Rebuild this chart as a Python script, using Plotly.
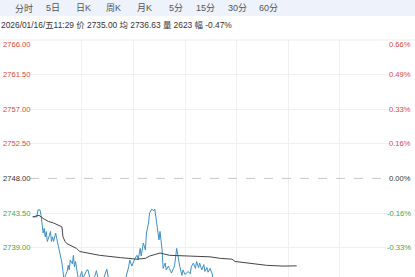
import plotly.graph_objects as go

# ---- data ----
tabs = ["分时", "5日", "日K", "周K", "月K", "5分", "15分", "30分", "60分"]
info_text = "2026/01/16/五11:29 价 2735.00 均 2736.63 量 2623 幅 -0.47%"
prev_close = 2748.00

price_minutes = [0, 4, 5, 7, 8, 9, 10, 11, 12, 13, 14, 16, 17, 18, 19, 20, 22, 23, 24, 25,
                 26, 28, 29, 30, 31, 33, 34, 35, 36, 38, 39, 40, 41, 43, 44, 47, 48, 52, 53, 55,
                 58, 61, 63, 65, 68, 71, 73, 77, 82, 86, 89, 92, 93, 95, 96, 98, 100, 101, 103, 104,
                 106, 108, 109, 111, 112, 114, 116, 117, 118, 119, 121, 122, 124, 125, 127, 128, 130, 131, 133, 135,
                 136, 138, 139, 141, 143, 144, 146, 149, 151, 152, 154, 156, 157, 159, 160, 162, 164, 165, 167, 168,
                 170, 172, 173, 180, 190, 200, 210, 220, 230, 240, 248, 253]
price_values = [2743.0, 2743.0, 2743.9, 2743.9, 2743.2, 2741.7, 2740.9, 2741.5, 2740.4, 2741.1,
                2739.8, 2740.6, 2741.1, 2739.8, 2740.4, 2739.8, 2740.9, 2740.2, 2739.6, 2738.9,
                2738.3, 2737.0, 2735.9, 2734.8, 2735.3, 2735.9, 2736.7, 2736.1, 2737.4, 2736.9,
                2738.0, 2736.5, 2737.2, 2735.4, 2734.7, 2735.9, 2735.0, 2736.1, 2736.1, 2734.9,
                2734.6, 2736.0, 2734.8, 2734.5, 2735.0, 2736.2, 2734.8, 2734.4, 2734.7, 2734.5,
                2735.0, 2736.5, 2737.4, 2736.6, 2737.0, 2737.6, 2738.0, 2737.4, 2738.9, 2737.9,
                2739.6, 2738.7, 2740.9, 2742.2, 2743.5, 2744.0, 2743.8, 2744.0, 2743.0, 2741.7,
                2740.0, 2741.1, 2738.7, 2736.3, 2737.0, 2736.1, 2736.6, 2736.3, 2735.7, 2736.3,
                2736.7, 2738.9, 2737.9, 2736.5, 2735.4, 2736.1, 2735.5, 2735.9, 2735.6, 2736.5,
                2737.0, 2736.3, 2737.2, 2736.4, 2737.0, 2736.1, 2736.8, 2735.9, 2736.4, 2735.8,
                2736.3, 2735.6, 2734.8, 2734.5, 2734.8, 2734.3, 2734.6, 2734.2, 2734.7, 2734.4,
                2734.9, 2735.0]

avg_minutes = [0, 6, 10, 15, 20, 25, 28, 29, 31, 33, 36, 42, 45, 52, 64, 84, 100, 108, 112, 122,
               131, 151, 170, 180, 191, 194, 208, 224, 240, 253]
avg_values = [2743.0, 2743.2, 2742.8, 2742.4, 2742.2, 2741.9, 2741.7, 2740.4, 2739.8, 2739.5,
              2739.3, 2738.9, 2738.5, 2738.3, 2738.0, 2737.7, 2737.5, 2737.6, 2737.9, 2738.3,
              2738.0, 2737.9, 2737.8, 2737.6, 2737.5, 2737.2, 2737.0, 2736.7, 2736.6, 2736.63]

left_labels = ["2766.00", "2761.50", "2757.00", "2752.50", "2748.00", "2743.50", "2739.00"]
right_labels = ["0.66%", "0.49%", "0.33%", "0.16%", "0.00%", "-0.16%", "-0.33%"]
label_levels = [2766.0, 2761.5, 2757.0, 2752.5, 2748.0, 2743.5, 2739.0]

# ---- layout geometry ----
W, H = 415, 277
ML, MR, MT, MB = 30, 24, 40, 0
PW, PH = W - ML - MR, H - MT - MB
X_RANGE = [-2.6, 343.4]
Y_RANGE = [2735.18, 2766.0]

RED = "#e0443a"
GREEN = "#36a84a"
DARK = "#333333"
FONT = "Liberation Sans, Arial, Noto Sans CJK SC, sans-serif"


def px_x(p):
    return (p - ML) / PW


def px_y(p):
    return (H - MB - p) / PH


fig = go.Figure()
fig.add_trace(go.Scatter(x=price_minutes, y=price_values, mode="lines",
                         line=dict(color="#3d8fc8", width=1), hoverinfo="skip"))
fig.add_trace(go.Scatter(x=avg_minutes, y=avg_values, mode="lines",
                         line=dict(color="#444444", width=1), hoverinfo="skip"))

shapes = []
# header bar
shapes.append(dict(type="rect", xref="paper", yref="paper", x0=px_x(0), x1=px_x(W),
                   y0=px_y(16), y1=px_y(0), fillcolor="#edf2fb", line=dict(width=0), layer="below"))
# separator / top border
shapes.append(dict(type="line", xref="paper", yref="paper", x0=px_x(0), x1=px_x(W),
                   y0=px_y(40), y1=px_y(40), line=dict(color="#ececec", width=1)))
# prev close dashed line
shapes.append(dict(type="line", xref="paper", yref="y", x0=0, x1=1, y0=prev_close, y1=prev_close,
                   line=dict(color="#c8c8c8", width=1, dash="dash")))

annotations = []
tab_centers = [24, 53, 83, 113, 144, 176, 205, 237, 268]
for t, cx in zip(tabs, tab_centers):
    annotations.append(dict(text=t, xref="paper", yref="paper", x=px_x(cx), y=px_y(8),
                            xanchor="center", yanchor="middle", showarrow=False,
                            font=dict(size=9, color="#555555", family=FONT)))
annotations.append(dict(text=info_text, xref="paper", yref="paper", x=px_x(0), y=px_y(25),
                        xanchor="left", yanchor="middle", showarrow=False, borderpad=0,
                        font=dict(size=8.4, color="#333333", family=FONT)))

for lv, ltxt, rtxt in zip(label_levels, left_labels, right_labels):
    col = RED if lv > prev_close else (GREEN if lv < prev_close else DARK)
    ys = -4 if lv == Y_RANGE[1] else 0
    annotations.append(dict(text=ltxt, xref="paper", yref="y", x=px_x(2), y=lv, yshift=ys,
                            xanchor="left", yanchor="middle", showarrow=False, borderpad=0,
                            font=dict(size=7.6, color=col, family=FONT)))
    annotations.append(dict(text=rtxt, xref="paper", yref="y", x=px_x(412), y=lv, yshift=ys,
                            xanchor="right", yanchor="middle", showarrow=False, borderpad=0,
                            font=dict(size=7.6, color=col, family=FONT)))

fig.update_layout(
    width=W, height=H,
    margin=dict(l=ML, r=MR, t=MT, b=MB, pad=0),
    paper_bgcolor="white", plot_bgcolor="white",
    showlegend=False,
    shapes=shapes, annotations=annotations,
    xaxis=dict(range=X_RANGE, showgrid=True, gridcolor="#f0f0f0", gridwidth=1,
               tickmode="linear", tick0=47.2, dtick=49.45,
               showticklabels=False, zeroline=False, showline=False, ticks="", fixedrange=True),
    yaxis=dict(range=Y_RANGE, showgrid=True, gridcolor="#f0f0f0", gridwidth=1,
               tickmode="array", tickvals=[2761.5, 2757.0, 2752.5, 2743.5, 2739.0],
               showticklabels=False, zeroline=False, showline=False, ticks="", fixedrange=True),
)

fig.write_html("out.html", config={"displayModeBar": False})
